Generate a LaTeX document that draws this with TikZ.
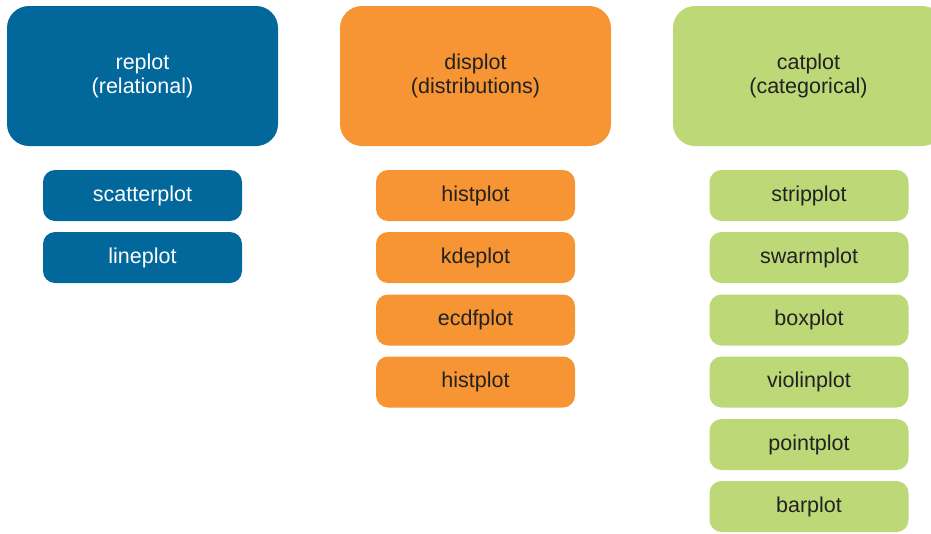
\documentclass[tikz,border=0pt]{standalone}
\usepackage{fontspec}
\setmainfont{Liberation Sans}
\definecolor{cblue}{HTML}{02679A}
\definecolor{corange}{HTML}{F79433}
\definecolor{cgreen}{HTML}{BDD877}
\definecolor{ctext}{HTML}{222222}
\begin{document}
\begin{tikzpicture}[x=1pt,y=-1pt,
  big/.style={rounded corners=22pt, minimum width=271pt, minimum height=140pt, align=center, inner sep=0pt, font=\fontsize{21.5}{24.5}\selectfont},
  small/.style={rounded corners=12pt, minimum width=199pt, minimum height=51pt, inner sep=0pt, font=\fontsize{21.5}{24.5}\selectfont},
  bluebox/.style={fill=cblue, text=white},
  orangebox/.style={fill=corange, text=ctext},
  greenbox/.style={fill=cgreen, text=ctext}]
\useasboundingbox (0,0) rectangle (931,533);
\node[big,bluebox] (rel) at (142.5,76) {replot\\(relational)};
\node[big,orangebox] (dis) at (475.5,76) {displot\\(distributions)};
\node[big,greenbox] (cat) at (808.5,76) {catplot\\(categorical)};
\node[small,bluebox] (b1) at (142.5,195.5) {scatterplot};
\node[small,bluebox] (b2) at (142.5,257.5) {lineplot};
\node[small,orangebox] (o1) at (475.5,195.5) {histplot};
\node[small,orangebox] (o2) at (475.5,257.5) {kdeplot};
\node[small,orangebox] (o3) at (475.5,320) {ecdfplot};
\node[small,orangebox] (o4) at (475.5,382) {histplot};
\node[small,greenbox] (g1) at (809,195.5) {stripplot};
\node[small,greenbox] (g2) at (809,257.5) {swarmplot};
\node[small,greenbox] (g3) at (809,320) {boxplot};
\node[small,greenbox] (g4) at (809,382) {violinplot};
\node[small,greenbox] (g5) at (809,444.5) {pointplot};
\node[small,greenbox] (g6) at (809,506.5) {barplot};
\end{tikzpicture}
\end{document}
